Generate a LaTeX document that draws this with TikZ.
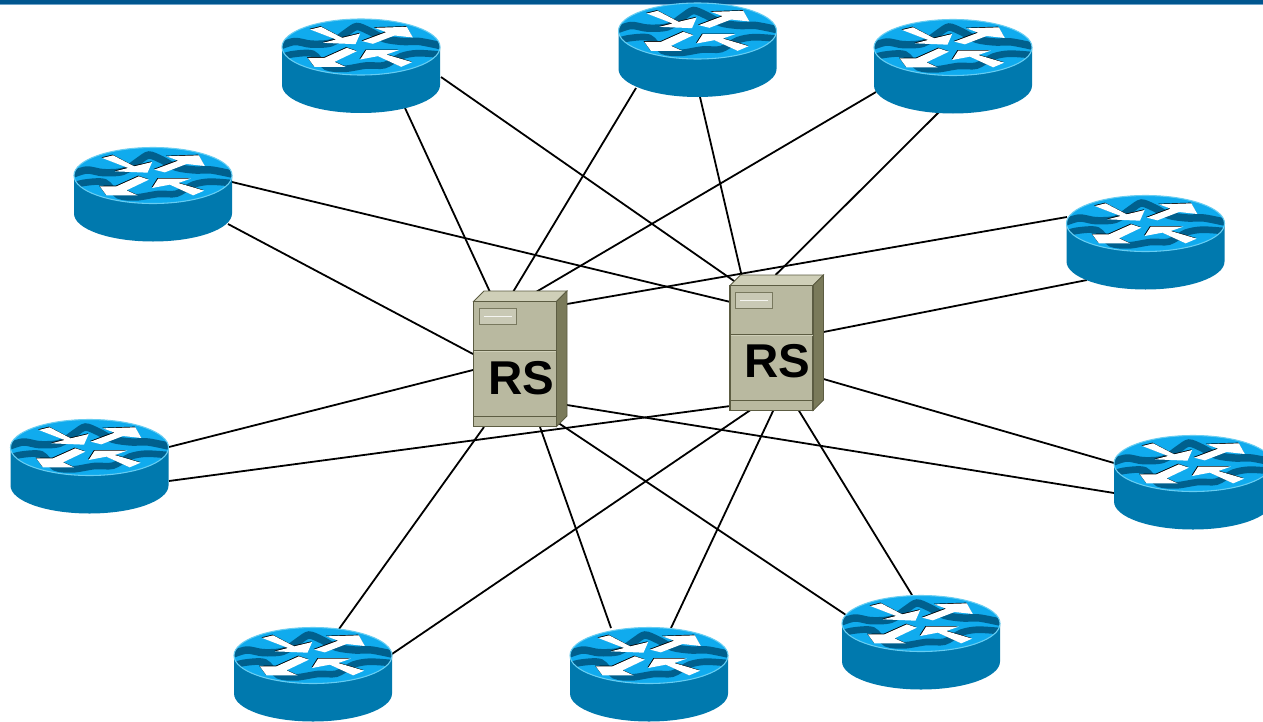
\documentclass[tikz,border=0pt]{standalone}
\usepackage{fontspec}
\setmainfont{Liberation Sans}
\usetikzlibrary{calc}
\definecolor{barblue}{HTML}{00568F}
\definecolor{barlight}{HTML}{6FA3C8}
\definecolor{rsside}{HTML}{0079AE}
\definecolor{rstop}{HTML}{10ABEE}
\definecolor{rsrim}{HTML}{66CDF2}
\definecolor{rswave}{HTML}{00608E}
\definecolor{srvfront}{HTML}{B9B9A0}
\definecolor{srvtop}{HTML}{CFCFB8}
\definecolor{srvside}{HTML}{7A7A5A}
\definecolor{srvedge}{HTML}{5C5C42}
\definecolor{srvpanel}{HTML}{C9C9B5}
\tikzset{
  routerbox/.style={shape=rectangle,minimum width=118.5pt,minimum height=70.5pt,inner sep=0pt},
  serverbox/.style={shape=rectangle,minimum width=62pt,minimum height=94pt,inner sep=0pt},
  link/.style={draw=black,line width=1.35pt},
  rslabel/.style={font=\fontsize{35.6pt}{36pt}\selectfont\bfseries,text=black,inner sep=0pt},
  pics/routerart/.style={code={
    \fill[rsside] (-79,0) -- (-79,38) arc[start angle=180,end angle=0,x radius=79,y radius=28] -- (79,0) -- cycle;
    \fill[rstop] (0,0) ellipse[x radius=79,y radius=28];
    \begin{scope}
      \clip (0,0) ellipse[x radius=79,y radius=28];
      \begin{scope}[scale=1/3,shift={(-274.5,-112.5)}]
        \draw[rswave,line width=5.6pt] plot[smooth] coordinates {(25,112) (75,96) (125,104) (185,100) (230,70) (262,51) (300,65) (345,88) (400,96) (450,96) (520,110)};
        \draw[rswave,line width=5pt] plot[smooth] coordinates {(25,146) (70,134) (130,133) (170,172) (225,178) (290,168) (345,167) (395,140) (445,131) (520,136)};
      \end{scope}
    \end{scope}
    \draw[rsrim,line width=0.8pt] (0,0) ellipse[x radius=79,y radius=28];
    \begin{scope}[scale=1/3,shift={(-274.5,-112.5)}]
      \foreach \dx/\dy/\col in {-2/-2/black,0/0/white}{
        \fill[\col,shift={(\dx,\dy)}] (122,60) -- (155,52) -- (218,85) -- (272,72) -- (258,104) -- (160,100) -- (200,90) -- cycle;
        \fill[\col,shift={(\dx,\dy)}] (278,95) -- (310,103) -- (375,78) -- (430,84) -- (412,52) -- (315,55) -- (350,68) -- cycle;
        \fill[\col,shift={(\dx,\dy)}] (232,115) -- (262,125) -- (195,157) -- (228,172) -- (135,172) -- (115,145) -- (165,145) -- cycle;
        \fill[\col,shift={(\dx,\dy)}] (272,150) -- (290,122) -- (388,122) -- (350,135) -- (428,158) -- (395,172) -- (325,140) -- cycle;
      }
    \end{scope}
  }},
  pics/serverart/.style={code={
    \filldraw[fill=srvtop,draw=srvedge,line width=0.6pt] (-41.5,-62.5) -- (-31,-73) -- (52,-73) -- (41.5,-62.5) -- cycle;
    \filldraw[fill=srvside,draw=srvedge,line width=0.6pt] (41.5,-62.5) -- (52,-73) -- (52,52) -- (41.5,62.5) -- cycle;
    \filldraw[fill=srvfront,draw=srvedge,line width=0.8pt] (-41.5,-62.5) rectangle (41.5,62.5);
    \draw[srvedge,line width=0.7pt] (-41.5,-13.5) -- (41.5,-13.5);
    \draw[srvtop,line width=0.6pt] (-41,-12.7) -- (41,-12.7);
    \draw[srvedge,line width=0.7pt] (-41.5,52) -- (41.5,52);
    \filldraw[fill=srvpanel,draw=srvedge!70!srvfront,line width=0.6pt] (-36,-55.5) rectangle (1,-39.5);
    \draw[white!85!srvfront,line width=0.6pt] (-31.5,-48) -- (-3.5,-48);
  }}
}
\begin{document}
\begin{tikzpicture}[x=0.75pt,y=-0.75pt]
\clip (0,0) rectangle (1263,721);
\useasboundingbox (0,0) rectangle (1263,721);
\fill[white] (0,0) rectangle (1263,721);
\fill[barblue] (0,0) rectangle (1263,4);
\fill[barlight] (0,4) rectangle (1263,5);
% anchors
\node[routerbox] (r1) at (361,47) {};
\node[routerbox] (r2) at (697.5,31) {};
\node[routerbox] (r3) at (953,47.5) {};
\node[routerbox] (r4) at (153,175.5) {};
\node[routerbox] (r5) at (1145.5,223.5) {};
\node[routerbox] (r6) at (89.5,447.5) {};
\node[routerbox] (r7) at (1193,463.5) {};
\node[routerbox] (r8) at (313,655.5) {};
\node[routerbox] (r9) at (649,655.5) {};
\node[routerbox] (r10) at (921,623.5) {};
\node[serverbox] (s1) at (515,364) {};
\node[serverbox] (s2) at (771.5,348) {};
% connectors
\newcommand{\netlink}[4]{\draw[link] ($(#1)+(#2)$) -- ($(#3)+(#4)$);}
\netlink{r1}{44,61}{s1}{-25,-72}
\netlink{r1}{80,30}{s2}{-36,-66}
\netlink{r2}{-61.5,57}{s1}{-2,-72}
\netlink{r2}{2.5,66}{s2}{-30,-73}
\netlink{r3}{-77,44.5}{s1}{21,-72}
\netlink{r3}{-14,64.5}{s2}{4,-73}
\netlink{r4}{79,6.5}{s2}{-41,-46}
\netlink{r4}{75,48.5}{s1}{-42,-10}
\netlink{r5}{-78.5,-6.5}{s1}{52,-60}
\netlink{r5}{-58.5,56.5}{s2}{52,-16}
\netlink{r6}{79.5,-0.5}{s1}{-42,6}
\netlink{r6}{79.5,33.5}{s2}{-41,58}
\netlink{r7}{-79,-0.5}{s2}{52,31}
\netlink{r7}{-79,29.5}{s1}{52,41}
\netlink{r8}{26,-26.5}{s1}{-31,63}
\netlink{r8}{79,-1.5}{s2}{-21,62}
\netlink{r9}{-38,-27.5}{s1}{25,63}
\netlink{r9}{22,-27.5}{s2}{2,62}
\netlink{r10}{-9,-28.5}{s2}{27,62}
\netlink{r10}{-75,-8.5}{s1}{42,58}
% devices
\foreach \n in {r1,r2,r3,r4,r5,r6,r7,r8,r9,r10}{\pic at (\n) {routerart};}
\pic at (s1) {serverart};
\pic at (s2) {serverart};
\node[rslabel] (l1) at ($(s1)+(6.5,14)$) {RS};
\node[rslabel] (l2) at ($(s2)+(5.5,13)$) {RS};
\end{tikzpicture}
\end{document}
